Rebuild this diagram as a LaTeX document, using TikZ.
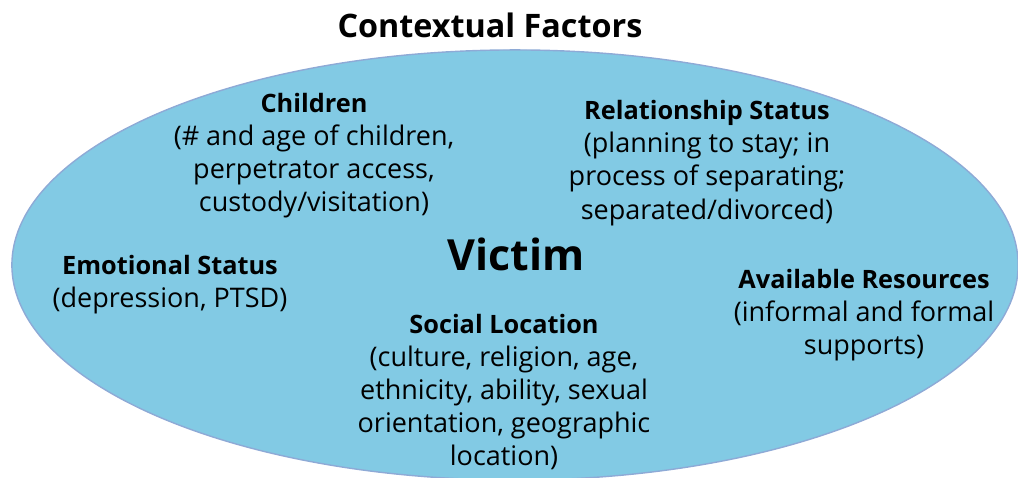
\documentclass[tikz,border=0pt]{standalone}
\usepackage{fontspec}
\setmainfont{Open Sans}

\definecolor{ovalfill}{RGB}{130,202,228}
\definecolor{ovaldraw}{RGB}{142,170,214}

\newcommand{\factorhead}[1]{{\fontsize{18}{23.4}\selectfont\bfseries #1}}

\begin{document}
\begin{tikzpicture}[x=0.025cm,
					y=-0.025cm,
					factor node/.style={align=center,inner sep=0pt,
					  font=\fontsize{19.2}{23.6}\selectfont},
					title node/.style={inner sep=0pt,
					  font=\fontsize{23}{28}\selectfont\bfseries}]

  \useasboundingbox (0,0) rectangle (1018,478);

  % the oval
  \draw[ovaldraw, fill=ovalfill, line width=1pt]
    (515,265) ellipse [x radius=12.575cm, y radius=5.375cm];

  \node[title node] (context) at (490,25) {Contextual Factors};
  \node[inner sep=0pt, font=\fontsize{30.5}{36}\selectfont\bfseries]
    (victim) at (516,254) {Victim};

  \node[factor node] (children) at (314,155.5)
    {\factorhead{Children}\\(\# and age of children,\\perpetrator access,\\custody/visitation)};
  \node[factor node] (relation) at (707,163)
    {\factorhead{Relationship Status}\\(planning to stay; in\\process of separating;\\separated/divorced)};
  \node[factor node] (emotion) at (170,285)
    {\factorhead{Emotional Status}\\(depression, PTSD)};
  \node[factor node] (resources) at (864,315)
    {\factorhead{Available Resources}\\(informal and formal\\supports)};
  \node[factor node] (social) at (504,392)
    {\factorhead{Social Location}\\(culture, religion, age,\\ethnicity, ability, sexual\\orientation, geographic\\location)};
\end{tikzpicture}
\end{document}
